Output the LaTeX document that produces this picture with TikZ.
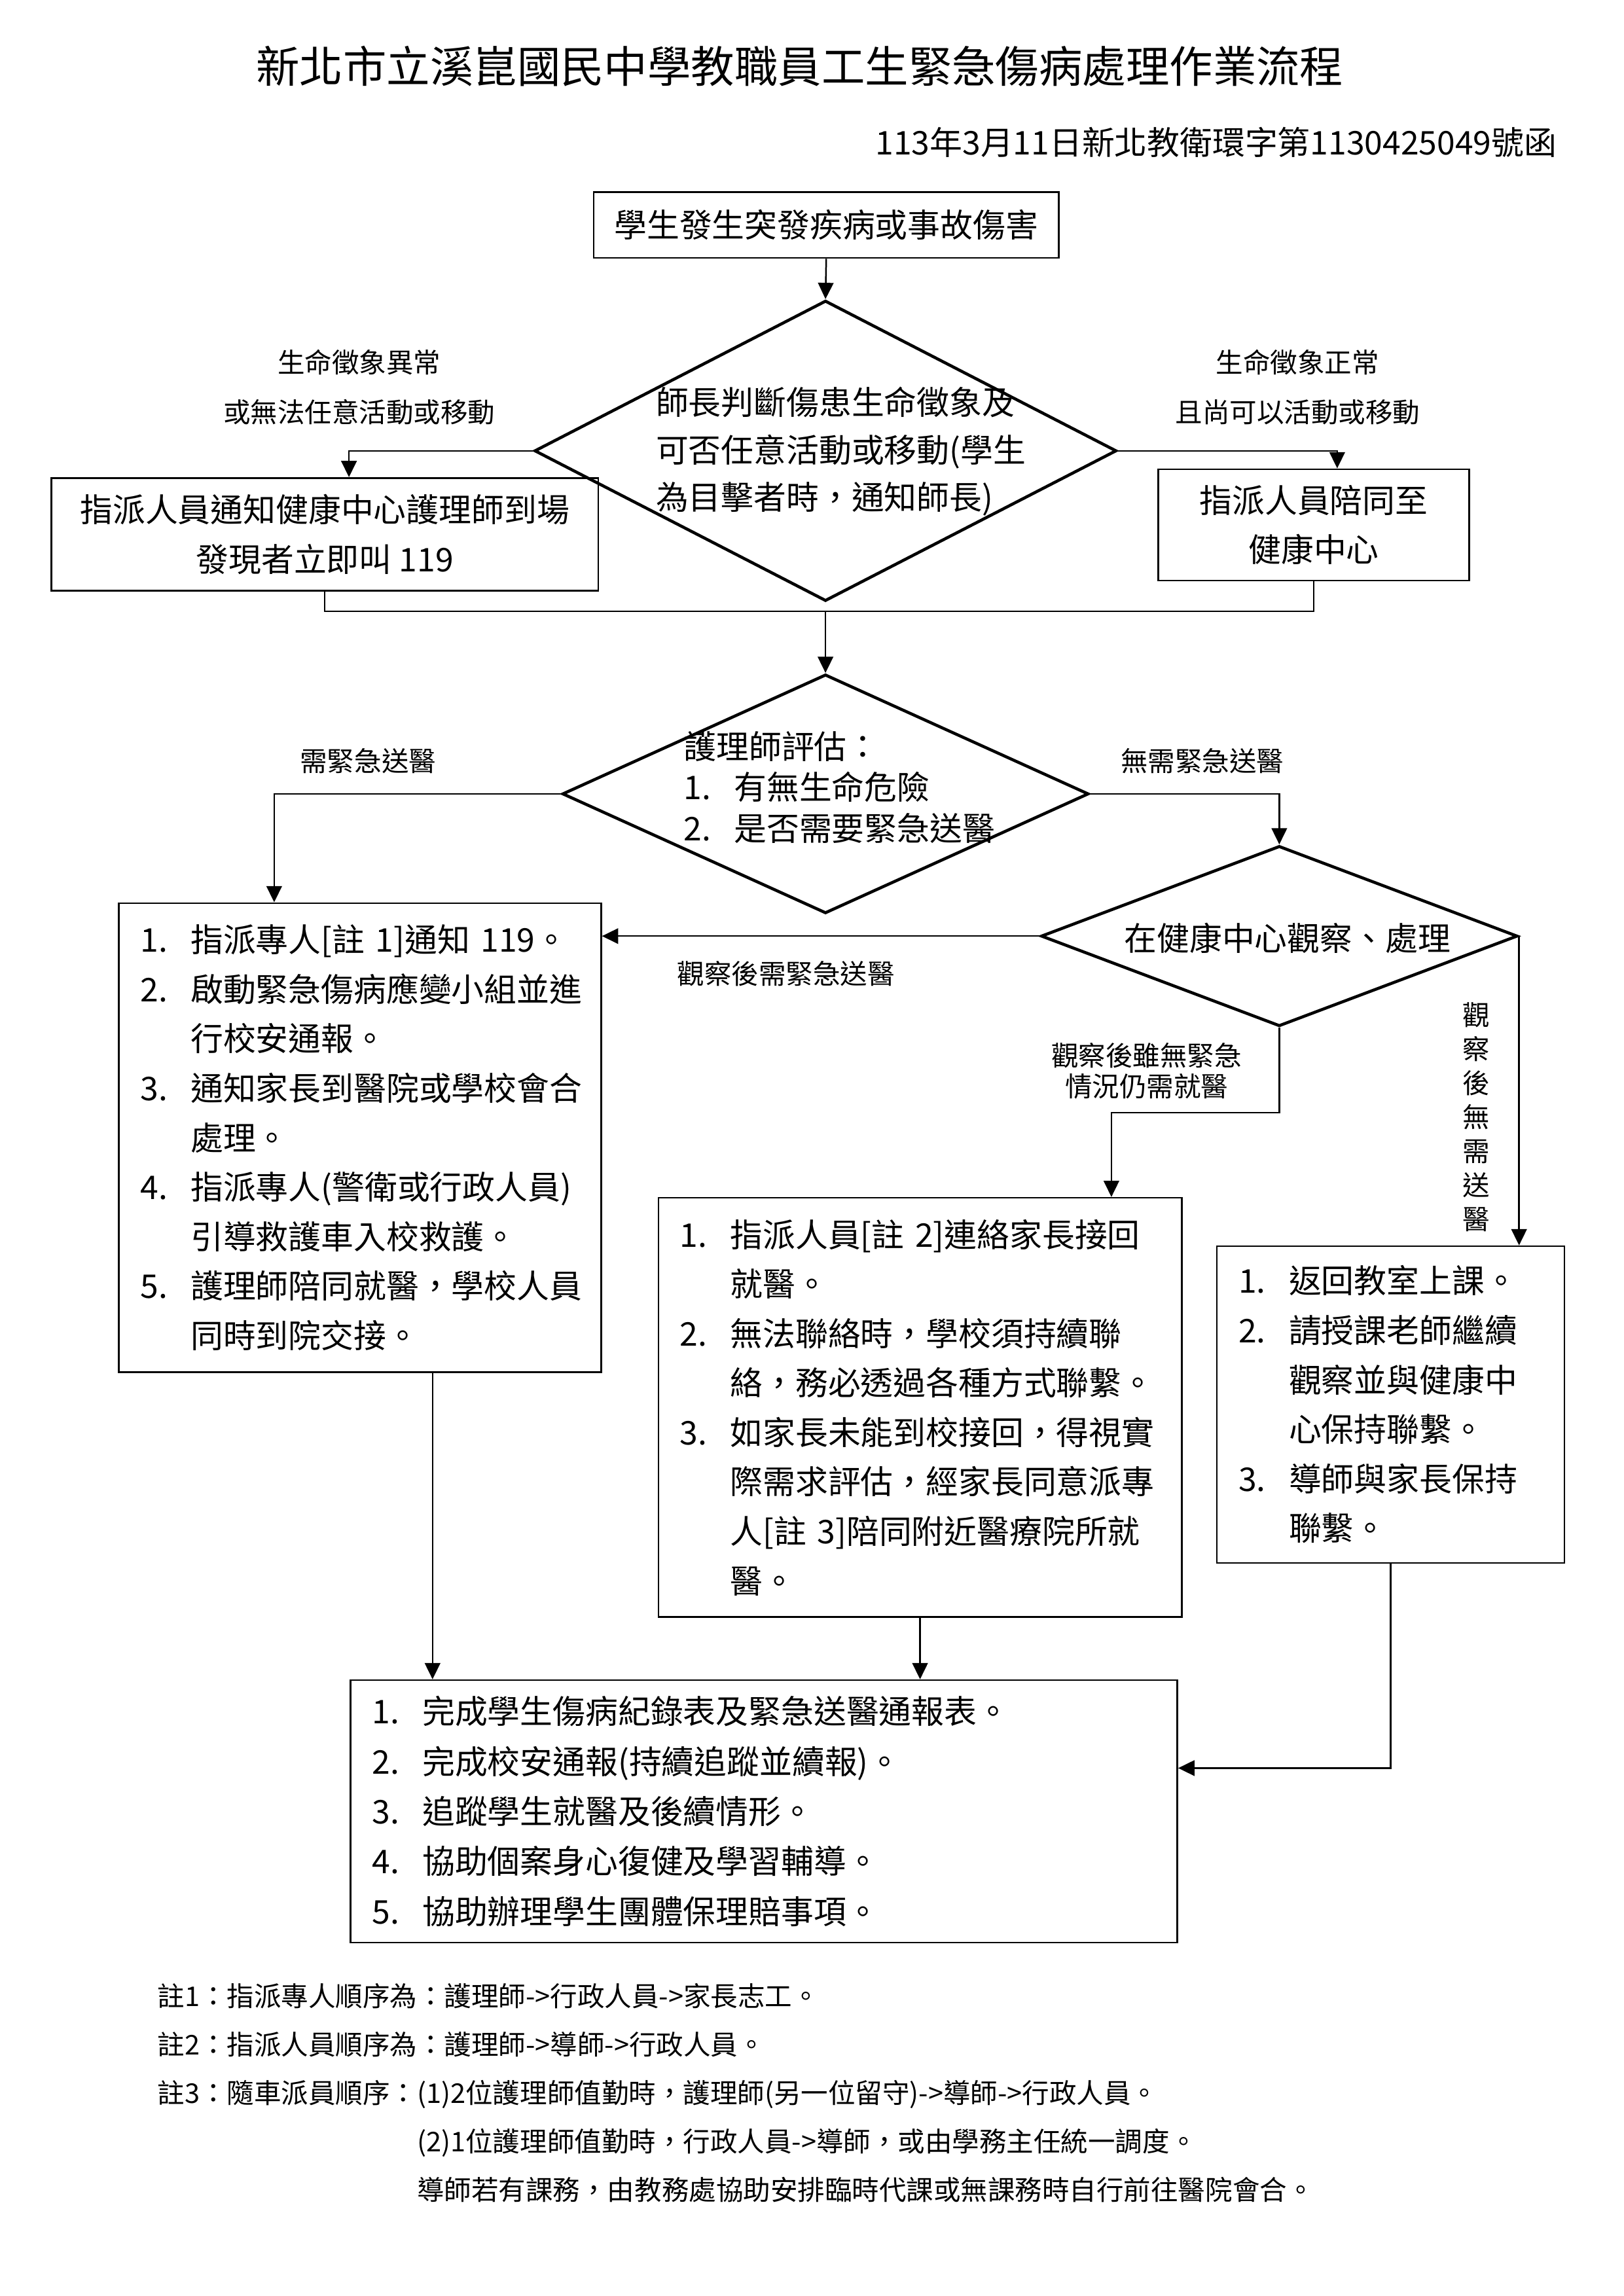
\documentclass[tikz,border=0pt]{standalone}
\usepackage{fontspec}
\setmainfont{Noto Sans CJK TC}
\usetikzlibrary{shapes.geometric,arrows.meta,calc}
\newcommand{\itemno}[1]{\makebox[6.5mm][l]{#1}}
\newcommand{\contind}{\hspace*{6.5mm}}

\begin{document}
\begin{tikzpicture}[x=0.18959mm,y=-0.18959mm,
	box node/.style={draw,line width=0.6pt,rectangle,inner sep=0pt,font=\fontsize{12}{18.2}\selectfont},
	list node/.style={draw,line width=0.6pt,rectangle,align=left,inner xsep=2.8mm,inner ysep=0pt,font=\fontsize{12}{18.2}\selectfont},
	dia node/.style={draw,line width=1.1pt,diamond,inner sep=0pt},
	lbl node/.style={align=center,inner sep=0pt,font=\fontsize{10}{18.3}\selectfont},
	arr/.style={-{Triangle[length=2.1mm,width=2mm]},line width=0.6pt}]
	
	\path[fill=white] (0,0) rectangle (1107.6,1566.1);
	\useasboundingbox (0,0) rectangle (1107.6,1566.1);
	
	\node[font=\fontsize{16}{16}\selectfont] (title) at (545.5,45) {新北市立溪崑國民中學教職員工生緊急傷病處理作業流程};
	\node[anchor=east,inner sep=0pt,font=\fontsize{12}{12}\selectfont] (docno) at (1062,97) {113年3月11日新北教衛環字第1130425049號函};
	
	\node[box node,minimum width=60.10mm,minimum height=8.53mm] (start) at (563.5,153.5) {學生發生突發疾病或事故傷害};
	\node[dia node,minimum width=75.27mm,minimum height=38.86mm] (judge) at (563,307.5) {};
	\node[anchor=west,align=left,inner sep=0pt,font=\fontsize{12}{17.5}\selectfont] (judgetxt) at (447,308) {師長判斷傷患生命徵象及\\可否任意活動或移動(學生\\為目擊者時，通知師長)};
	\node[lbl node] (abnormal) at (245,264) {生命徵象異常\\或無法任意活動或移動};
	\node[lbl node] (normal) at (885,264) {生命徵象正常\\且尚可以活動或移動};
	
	\node[box node,align=center,minimum width=70.72mm,minimum height=14.59mm] (call) at (221.5,364.5) {指派人員通知健康中心護理師到場\\發現者立即叫 119};
	\node[box node,align=center,minimum width=40.20mm,minimum height=14.40mm] (escort) at (896,358) {指派人員陪同至\\健康中心};
	\coordinate (merge) at (563,417);
	
	\node[dia node,minimum width=68.06mm,minimum height=30.90mm] (assess) at (563,541.5) {};
	\node[anchor=west,align=left,inner sep=0pt,font=\fontsize{12}{15.1}\selectfont] (assesstxt) at (466,537) {護理師評估：\\\itemno{1.}有無生命危險\\\itemno{2.}是否需要緊急送醫};
	\node[lbl node] (need) at (251,519) {需緊急送醫};
	\node[lbl node] (noneed) at (820,519) {無需緊急送醫};
	
	\node[list node,text width=56.78mm,minimum height=60.67mm] (emerg) at (245.5,776) {\itemno{1.}指派專人[註 1]通知 119。\\\itemno{2.}啟動緊急傷病應變小組並進\\\contind 行校安通報。\\\itemno{3.}通知家長到醫院或學校會合\\\contind 處理。\\\itemno{4.}指派專人(警衛或行政人員)\\\contind 引導救護車入校救護。\\\itemno{5.}護理師陪同就醫，學校人員\\\contind 同時到院交接。};
	
	\node[dia node,minimum width=61.62mm,minimum height=23.32mm] (observe) at (872.5,638.5) {};
	\node[font=\fontsize{12}{12}\selectfont] (observetxt) at (878,640) {在健康中心觀察、處理};
	\node[lbl node] (obsneed) at (536,664) {觀察後需緊急送醫};
	\node[lbl node,font=\fontsize{10}{11.5}\selectfont] (obsclinic) at (782,730.5) {觀察後雖無緊急\\情況仍需就醫};
	\node[lbl node,font=\fontsize{10}{12.5}\selectfont] (obsnone) at (1007,762) {觀\\察\\後\\無\\需\\送\\醫};
	
	\node[list node,text width=62.08mm,minimum height=54.22mm] (parent) at (627.5,960) {\itemno{1.}指派人員[註 2]連絡家長接回\\\contind 就醫。\\\itemno{2.}無法聯絡時，學校須持續聯\\\contind 絡，務必透過各種方式聯繫。\\\itemno{3.}如家長未能到校接回，得視實\\\contind 際需求評估，經家長同意派專\\\contind 人[註 3]陪同附近醫療院所就\\\contind 醫。};
	\node[list node,text width=39.34mm,minimum height=40.95mm] (back) at (948.5,958) {\itemno{1.}返回教室上課。\\\itemno{2.}請授課老師繼續\\\contind 觀察並與健康中\\\contind 心保持聯繫。\\\itemno{3.}導師與家長保持\\\contind 聯繫。};
	
	\node[list node,text width=101.33mm,minimum height=33.94mm,font=\fontsize{12}{18.4}\selectfont] (follow) at (521,1235.5) {\itemno{1.}完成學生傷病紀錄表及緊急送醫通報表。\\\itemno{2.}完成校安通報(持續追蹤並續報)。\\\itemno{3.}追蹤學生就醫及後續情形。\\\itemno{4.}協助個案身心復健及學習輔導。\\\itemno{5.}協助辦理學生團體保理賠事項。};
	
	\node[anchor=west,align=left,inner sep=0pt,font=\fontsize{10}{17.8}\selectfont] (notes) at (107,1427.5) {註1：指派專人順序為：護理師->行政人員->家長志工。\\註2：指派人員順序為：護理師->導師->行政人員。\\註3：隨車派員順序：(1)2位護理師值勤時，護理師(另一位留守)->導師->行政人員。\\\phantom{註3：隨車派員順序：}(2)1位護理師值勤時，行政人員->導師，或由學務主任統一調度。\\\phantom{註3：隨車派員順序：}導師若有課務，由教務處協助安排臨時代課或無課務時自行前往醫院會合。};
	
	\coordinate (emergout) at ($(emerg.south)+(49.5,0)$);
	
	\draw[arr] (start.south) -- (judge.north);
	\draw[arr] (judge.west) -| ($(call.north)+(16.5,0)$);
	\draw[arr] (judge.east) -| ($(escort.north)+(16,0)$);
	\draw[line width=0.6pt] (call.south) |- (merge) -| (escort.south);
	\draw[arr] (merge) -- (assess.north);
	\draw[arr] (assess.west) -| ($(emerg.north)+(-58.5,0)$);
	\draw[arr] (assess.east) -| (observe.north);
	\draw[arr] (observe.west) -- (observe.west -| emerg.east);
	\draw[arr] (observe.south) -- ++(0,58) -| ($(parent.north)+(130.5,0)$);
	\draw[arr] (observe.east) -- (observe.east |- back.north);
	\draw[arr] (emergout) -- (emergout |- follow.north);
	\draw[arr] (parent.south) -- (parent.south |- follow.north);
	\draw[arr] (back.south) |- ($(follow.east)+(0,-29.5)$);
\end{tikzpicture}
\end{document}
